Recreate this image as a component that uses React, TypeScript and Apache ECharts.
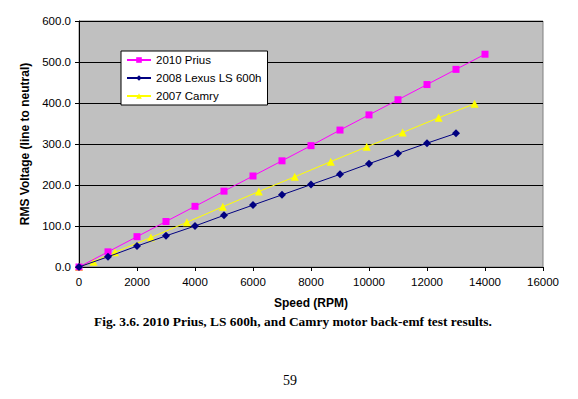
import React, { useEffect, useRef } from "react";
import * as echarts from "echarts";

const priusRpm = [0, 1000, 2000, 3000, 4000, 5000, 6000, 7000, 8000, 9000, 10000, 11000, 12000, 13000, 14000];
const priusV = [0, 37, 74, 111, 148, 185, 222, 259, 296, 334, 371, 408, 445, 482, 519];

const lexusRpm = [0, 1000, 2000, 3000, 4000, 5000, 6000, 7000, 8000, 9000, 10000, 11000, 12000, 13000];
const lexusV = [0, 25, 51, 76, 100, 126, 151, 176, 201, 226, 252, 277, 302, 326];

const camryRpm = [0, 500, 1240, 2480, 3720, 4960, 6200, 7440, 8680, 9920, 11160, 12400, 13640];
const camryV = [0, 13, 36, 72, 109, 147, 184, 220, 257, 293, 328, 364, 398];

const seriesNames = ["2010 Prius", "2008 Lexus LS 600h", "2007 Camry"];

const pairs = (xs: number[], ys: number[]) => xs.map((x, i) => [x, ys[i]]);

export default function App() {
  const ref = useRef<HTMLDivElement>(null);
  useEffect(() => {
    if (!ref.current) return;
    const chart = echarts.init(ref.current, null, { renderer: "svg" });
    const font = "Arial, 'Liberation Sans', sans-serif";
    chart.setOption({
      animation: false,
      backgroundColor: "#ffffff",
      grid: {
        left: 79,
        top: 21,
        width: 464,
        height: 246,
        show: true,
        backgroundColor: "#C0C0C0",
        borderColor: "#808080",
        borderWidth: 1,
      },
      legend: {
        orient: "vertical",
        left: 121,
        top: 51,
        width: 132,
        backgroundColor: "#ffffff",
        borderColor: "#000000",
        borderWidth: 1,
        borderRadius: 0,
        padding: [3, 6, 3, 5],
        itemGap: 6,
        itemWidth: 24,
        itemHeight: 7,
        textStyle: { fontFamily: font, fontSize: 11.5, color: "#000" },
        data: seriesNames,
      },
      xAxis: {
        type: "value",
        min: 0,
        max: 16000,
        interval: 2000,
        name: "Speed (RPM)",
        nameLocation: "middle",
        nameGap: 30,
        nameTextStyle: { fontFamily: font, fontSize: 12, fontWeight: "bold", color: "#000" },
        axisLine: { show: true, onZero: false, lineStyle: { color: "#000", width: 1 } },
        axisTick: { show: true, length: 4, inside: false, lineStyle: { color: "#000" } },
        axisLabel: {
          fontFamily: font,
          fontSize: 11.5,
          color: "#000",
          margin: 9,
          formatter: (v: number) => String(v),
        },
        splitLine: { show: false },
      },
      yAxis: {
        type: "value",
        min: 0,
        max: 600,
        interval: 100,
        name: "RMS Voltage (line to neutral)",
        nameLocation: "middle",
        nameGap: 45,
        nameTextStyle: { fontFamily: font, fontSize: 12, fontWeight: "bold", color: "#000" },
        axisLine: { show: true, lineStyle: { color: "#000", width: 1 } },
        axisTick: { show: true, length: 4, inside: false, lineStyle: { color: "#000" } },
        axisLabel: {
          fontFamily: font,
          fontSize: 11.5,
          color: "#000",
          margin: 8,
          formatter: (v: number) => v.toFixed(1),
        },
        splitLine: { show: true, lineStyle: { color: "#000", width: 1 } },
      },
      series: [
        {
          name: seriesNames[0],
          type: "line",
          data: pairs(priusRpm, priusV),
          symbol: "rect",
          symbolSize: 7,
          color: "#FF00FF",
          lineStyle: { color: "#FF00FF", width: 1 },
          itemStyle: { color: "#FF00FF" },
          z: 3,
        },
        {
          name: seriesNames[1],
          type: "line",
          data: pairs(lexusRpm, lexusV),
          symbol: "diamond",
          symbolSize: 8,
          color: "#000080",
          lineStyle: { color: "#000080", width: 1 },
          itemStyle: { color: "#000080" },
          z: 4,
        },
        {
          name: seriesNames[2],
          type: "line",
          data: pairs(camryRpm, camryV),
          symbol: "triangle",
          symbolSize: 8,
          color: "#FFFF00",
          lineStyle: { color: "#FFFF00", width: 1 },
          itemStyle: { color: "#FFFF00" },
          z: 2,
        },
      ],
      graphic: [
        {
          type: "text",
          left: 94,
          top: 315,
          style: {
            text: "Fig. 3.6. 2010 Prius, LS 600h, and Camry motor back-emf test results.",
            font: "bold 13.4px 'Times New Roman', 'Liberation Serif', serif",
            fill: "#000",
          },
        },
        {
          type: "text",
          x: 283,
          y: 373,
          style: {
            text: "59",
            font: "14px 'Times New Roman', 'Liberation Serif', serif",
            fill: "#000",
          },
        },
      ],
    });
    return () => chart.dispose();
  }, []);
  return (
    <div
      ref={ref}
      style={{ position: "fixed", left: 0, top: 0, width: 578, height: 399, background: "#fff" }}
    />
  );
}
